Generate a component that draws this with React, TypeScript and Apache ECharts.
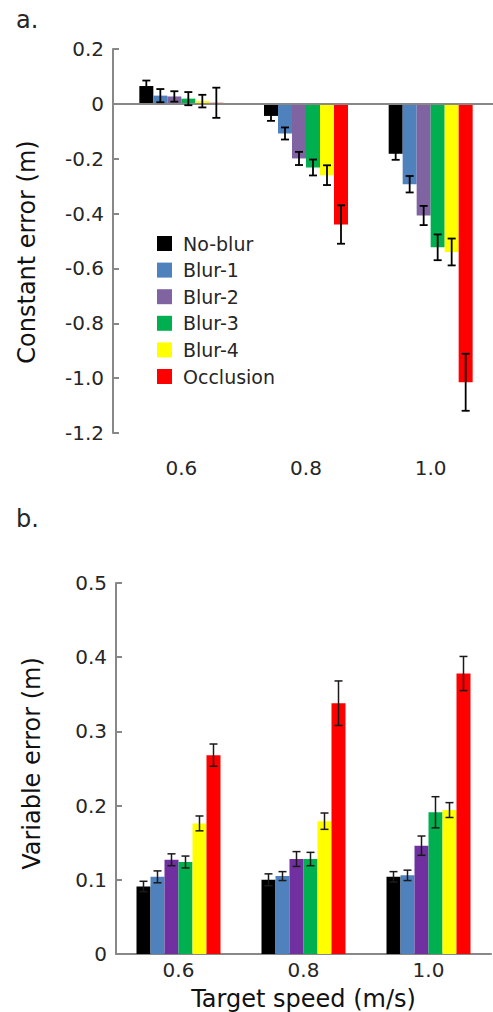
import React, { useEffect, useRef } from "react";
import * as echarts from "echarts";

const categories = ["0.6", "0.8", "1.0"];
const conditions = ["No-blur", "Blur-1", "Blur-2", "Blur-3", "Blur-4", "Occlusion"];
const colorsA = ["#000000", "#4F81BD", "#8064A2", "#00B050", "#FFFF00", "#FF0000"];
const colorsB = ["#000000", "#4F81BD", "#7030A0", "#00B050", "#FFFF00", "#FF0000"];

// Panel a: constant error (m), mean and error-bar half-length per condition
const noBlurCE = [0.065, -0.044, -0.182];
const blur1CE = [0.03, -0.108, -0.293];
const blur2CE = [0.027, -0.199, -0.407];
const blur3CE = [0.019, -0.232, -0.523];
const blur4CE = [0.01, -0.26, -0.54];
const occlusionCE = [0.004, -0.44, -1.015];
const noBlurCEErr = [0.02, 0.018, 0.022];
const blur1CEErr = [0.024, 0.022, 0.03];
const blur2CEErr = [0.019, 0.024, 0.035];
const blur3CEErr = [0.024, 0.029, 0.047];
const blur4CEErr = [0.023, 0.036, 0.049];
const occlusionCEErr = [0.055, 0.07, 0.104];

// Panel b: variable error (m)
const noBlurVE = [0.091, 0.1, 0.104];
const blur1VE = [0.104, 0.105, 0.106];
const blur2VE = [0.127, 0.128, 0.146];
const blur3VE = [0.124, 0.128, 0.191];
const blur4VE = [0.176, 0.179, 0.194];
const occlusionVE = [0.268, 0.338, 0.378];
const noBlurVEErr = [0.007, 0.008, 0.007];
const blur1VEErr = [0.008, 0.006, 0.007];
const blur2VEErr = [0.008, 0.01, 0.013];
const blur3VEErr = [0.008, 0.009, 0.021];
const blur4VEErr = [0.01, 0.011, 0.01];
const occlusionVEErr = [0.015, 0.03, 0.023];

const ticksA = [0.2, 0, -0.2, -0.4, -0.6, -0.8, -1.0, -1.2];
const ticksB = [0, 0.1, 0.2, 0.3, 0.4, 0.5];

const FONT = "DejaVu Sans";
const BAR_W = 14;

const ceMeans = [noBlurCE, blur1CE, blur2CE, blur3CE, blur4CE, occlusionCE];
const ceErrs = [noBlurCEErr, blur1CEErr, blur2CEErr, blur3CEErr, blur4CEErr, occlusionCEErr];
const veMeans = [noBlurVE, blur1VE, blur2VE, blur3VE, blur4VE, occlusionVE];
const veErrs = [noBlurVEErr, blur1VEErr, blur2VEErr, blur3VEErr, blur4VEErr, occlusionVEErr];

function fmt(v: number) {
  if (Math.abs(v) < 1e-9) return "0";
  return v.toFixed(1);
}

function errData(means: number[][], errs: number[][]) {
  const out: number[][] = [];
  means.forEach((arr, si) => arr.forEach((m, ci) => out.push([ci, si, m, errs[si][ci]])));
  return out;
}

function makeRender(stroke: string, lw: number) {
  return (params: any, api: any) => {
    const ci = api.value(0);
    const si = api.value(1);
    const m = api.value(2);
    const e = api.value(3);
    const p1 = api.coord([ci, m + e]);
    const p2 = api.coord([ci, m - e]);
    const x = p1[0] + (si - 2.5) * BAR_W;
    const cap = 4;
    const st = { stroke, lineWidth: lw };
    return {
      type: "group",
      children: [
        { type: "line", shape: { x1: x, y1: p1[1], x2: x, y2: p2[1] }, style: st },
        { type: "line", shape: { x1: x - cap, y1: p1[1], x2: x + cap, y2: p1[1] }, style: st },
        { type: "line", shape: { x1: x - cap, y1: p2[1], x2: x + cap, y2: p2[1] }, style: st },
      ],
    };
  };
}

export default function App() {
  const ref = useRef<HTMLDivElement>(null);
  useEffect(() => {
    document.body.style.margin = "0";
    if (!ref.current) return;
    const chart = echarts.init(ref.current, undefined, { renderer: "svg" });
    const axisColor = "#888888";
    const textColor = "#262626";

    const series: any[] = [];
    conditions.forEach((name, si) => {
      const s: any = {
        name,
        type: "bar",
        xAxisIndex: 0,
        yAxisIndex: 0,
        data: ceMeans[si],
        barWidth: BAR_W,
        barGap: "0%",
        itemStyle: { color: colorsA[si] },
      };
      if (si === 0) {
        s.markLine = {
          silent: true,
          symbol: ["none", "none"],
          label: { show: false },
          lineStyle: { color: axisColor, width: 2, type: "solid" },
          data: [{ yAxis: 0 }],
        };
      }
      series.push(s);
    });
    conditions.forEach((name, si) => {
      series.push({
        name,
        type: "bar",
        xAxisIndex: 1,
        yAxisIndex: 1,
        data: veMeans[si],
        barWidth: BAR_W,
        barGap: "0%",
        itemStyle: { color: colorsB[si] },
      });
    });
    series.push({
      type: "custom",
      xAxisIndex: 0,
      yAxisIndex: 0,
      z: 10,
      renderItem: makeRender("#000000", 1.8),
      encode: { x: 0, y: 2 },
      data: errData(ceMeans, ceErrs),
    });
    series.push({
      type: "custom",
      xAxisIndex: 1,
      yAxisIndex: 1,
      z: 10,
      renderItem: makeRender("#1a1a1a", 1.5),
      encode: { x: 0, y: 2 },
      data: errData(veMeans, veErrs),
    });

    chart.setOption({
      animation: false,
      backgroundColor: "#ffffff",
      textStyle: { fontFamily: FONT },
      title: [
        { text: "a.", left: 11, top: 3, textStyle: { fontSize: 24, fontWeight: "normal", color: textColor, fontFamily: FONT } },
        { text: "b.", left: 11, top: 502, textStyle: { fontSize: 24, fontWeight: "normal", color: textColor, fontFamily: FONT } },
      ],
      legend: {
        data: conditions,
        orient: "vertical",
        left: 152,
        top: 229,
        itemWidth: 15,
        itemHeight: 15,
        itemGap: 7.6,
        icon: "rect",
        textStyle: { fontSize: 19, color: textColor, fontFamily: FONT, lineHeight: 19, padding: [0, 0, 0, 6] },
      },
      grid: [
        { left: 119, top: 49, width: 375, height: 384 },
        { left: 116, top: 583, width: 375, height: 371 },
      ],
      xAxis: [
        {
          type: "category",
          gridIndex: 0,
          data: categories,
          axisLine: { show: false },
          axisTick: { show: false },
          axisLabel: { margin: 25, fontSize: 20, color: textColor, fontFamily: FONT },
        },
        {
          type: "category",
          gridIndex: 1,
          data: categories,
          axisLine: { show: true, lineStyle: { color: axisColor, width: 2 } },
          axisTick: { show: false },
          axisLabel: { margin: 6, fontSize: 20, color: textColor, fontFamily: FONT },
          name: "Target speed (m/s)",
          nameLocation: "middle",
          nameGap: 33,
          nameTextStyle: { fontSize: 24, color: "#111111", fontFamily: FONT },
        },
      ],
      yAxis: [
        {
          type: "value",
          gridIndex: 0,
          min: ticksA[ticksA.length - 1],
          max: ticksA[0],
          interval: 0.2,
          offset: 6,
          axisLine: { show: true, lineStyle: { color: axisColor, width: 2 } },
          axisTick: { show: true, inside: true, length: 6, lineStyle: { color: axisColor, width: 2 } },
          splitLine: { show: false },
          axisLabel: { margin: 9, fontSize: 20, color: textColor, fontFamily: FONT, formatter: (v: number) => fmt(v) },
          name: "Constant error (m)",
          nameLocation: "middle",
          nameGap: 74,
          nameTextStyle: { fontSize: 24, color: "#111111", fontFamily: FONT, padding: [0, 22, 0, 0] },
        },
        {
          type: "value",
          gridIndex: 1,
          min: ticksB[0],
          max: ticksB[ticksB.length - 1],
          interval: 0.1,
          axisLine: { show: true, lineStyle: { color: axisColor, width: 2 } },
          axisTick: { show: true, inside: true, length: 6, lineStyle: { color: axisColor, width: 2 } },
          splitLine: { show: false },
          axisLabel: { margin: 9, fontSize: 20, color: textColor, fontFamily: FONT, formatter: (v: number) => fmt(v) },
          name: "Variable error (m)",
          nameLocation: "middle",
          nameGap: 72,
          nameTextStyle: { fontSize: 24, color: "#111111", fontFamily: FONT, padding: [0, 0, 0, 10] },
        },
      ],
      series,
    });
    return () => chart.dispose();
  }, []);
  return <div ref={ref} style={{ width: 493, height: 1012 }} />;
}
